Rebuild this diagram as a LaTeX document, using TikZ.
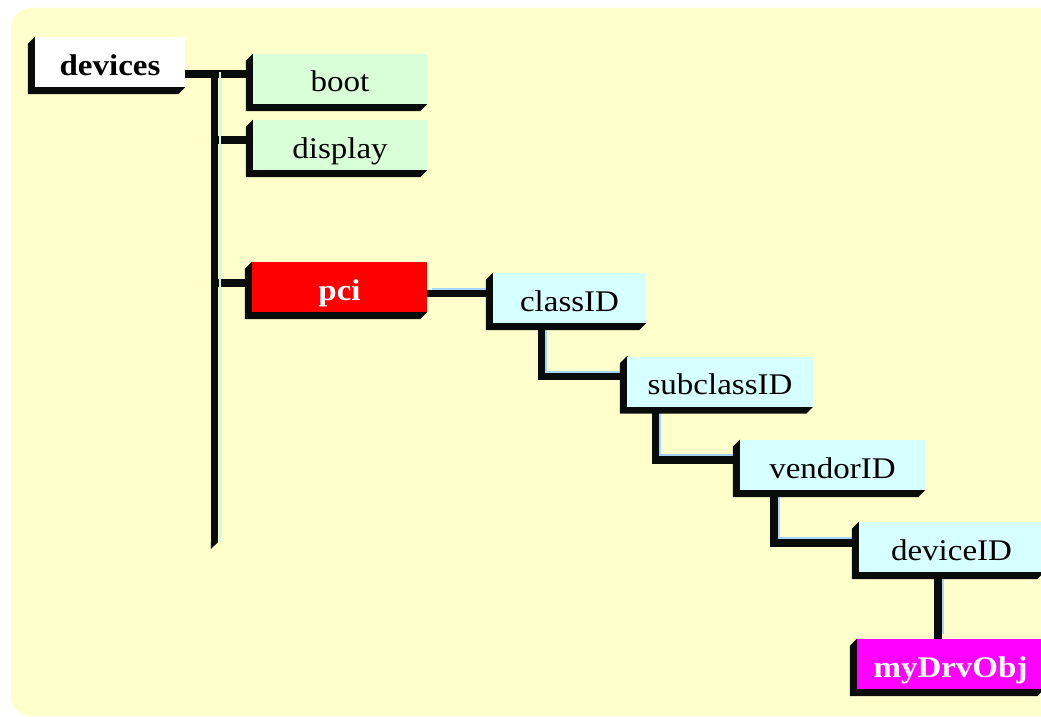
\documentclass[tikz,border=0pt]{standalone}
\usepackage{fontspec}
\setmainfont{Liberation Serif}[FakeStretch=1.1]
\usetikzlibrary{calc}
\pgfdeclarelayer{bg}\pgfdeclarelayer{conn}\pgfdeclarelayer{shad}
\pgfsetlayers{bg,conn,shad,main}
\definecolor{bgy}{RGB}{255,255,204}
\definecolor{lgreen}{RGB}{217,255,217}
\definecolor{lcyan}{RGB}{214,255,255}
\definecolor{shd}{RGB}{10,12,12}
\definecolor{hlc}{RGB}{165,212,255}
\definecolor{hlt}{RGB}{205,250,225}
\definecolor{pred}{RGB}{255,0,0}
\definecolor{pmag}{RGB}{255,0,255}
\newcommand\hlconn[1]{\draw[hlline] #1; \draw[connline] #1;}
\begin{document}
\begin{tikzpicture}[x=1pt,y=-1pt,
  box/.style={rectangle, inner sep=0pt, minimum height=50pt, text height=26pt, text depth=0pt, font=\fontsize{30pt}{30pt}\selectfont},
  greenbox/.style={box, fill=lgreen},
  cyanbox/.style={box, fill=lcyan},
  connline/.style={draw=shd, line width=7.5pt},
  hlline/.style={draw=hlc, line width=2.5pt, transform canvas={shift={(4.5pt,4.5pt)}}}
]
\useasboundingbox (0,0) rectangle (1041,717);
\clip (0,0) rectangle (1041,717);
\begin{pgfonlayer}{bg}
\fill[bgy, rounded corners=20pt] (11,8) rectangle (1070,716);
\end{pgfonlayer}

% nodes
\node[box, fill=white, minimum width=150pt] (devices) at (110,62) {\bfseries devices};
\node[greenbox, minimum width=174pt] (boot) at (340,79) {boot};
\node[greenbox, minimum width=174pt] (display) at (340,145) {display};
\node[box, fill=pred, text=white, minimum width=175pt] (pci) at (339.5,287) {\bfseries pci};
\node[cyanbox, minimum width=153pt] (classID) at (569.5,298) {classID};
\node[cyanbox, minimum width=186pt] (subclassID) at (720,381.5) {subclassID};
\node[cyanbox, minimum width=185pt] (vendorID) at (832.5,465) {vendorID};
\node[cyanbox, minimum width=185pt] (deviceID) at (951.5,547) {deviceID};
\node[box, fill=pmag, text=white, minimum width=187pt] (myDrvObj) at (950.5,664) {\bfseries myDrvObj};

% 3D shadows
\begin{pgfonlayer}{shad}
\foreach \n in {devices,boot,display,pci,classID,subclassID,vendorID,deviceID,myDrvObj}{
  \fill[shd] (\n.north west) -- ++(-7,7) -- ($(\n.south west)+(-7,7)$)
    -- ($(\n.south east)+(-7,7)$) -- (\n.south east) -- cycle;
}
\end{pgfonlayer}

% connectors
\begin{pgfonlayer}{conn}
\coordinate (tB) at (214.5,542);
\draw[connline] ($(devices.east)+(0,12)$) -| (tB);
\fill[shd] ($(tB)+(-3.75,0)$) -- ($(tB)+(3.75,0)$) -- ($(tB)+(-3.75,7)$) -- cycle;
\draw[connline] ($(boot.west)+(-35,-5)$) -- ($(boot.west)+(-6,-5)$);
\draw[connline] ($(display.west)+(-35,-5)$) -- ($(display.west)+(-6,-5)$);
\draw[connline] ($(pci.west)+(-34,-4)$) -- ($(pci.west)+(-6,-4)$);
\draw[draw=hlt, line width=2pt] ($(tB)+(5,0)$) -- ($(tB)+(5,-470)$);
\hlconn{($(pci.east)+(0,6.5)$) -- ($(classID.west)+(-6,-4.5)$)}
\hlconn{($(classID.south west)+(48.5,0)$) |- ($(subclassID.west)+(-6,-5)$)}
\hlconn{($(subclassID.south west)+(28.5,0)$) |- ($(vendorID.west)+(-6,-5)$)}
\hlconn{($(vendorID.south west)+(34,0)$) |- ($(deviceID.west)+(-6,-4)$)}
\hlconn{($(deviceID.south west)+(79,0)$) -- ($(myDrvObj.north west)+(81,0)$)}
\end{pgfonlayer}
\end{tikzpicture}
\end{document}
